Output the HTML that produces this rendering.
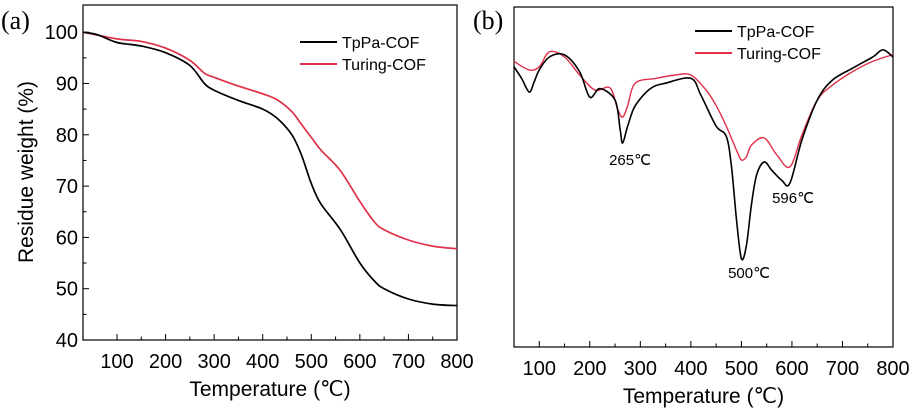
<!DOCTYPE html>
<html><head><meta charset="utf-8"><style>
body{margin:0;background:#fff;width:915px;height:409px;overflow:hidden}
svg{font-family:"Liberation Sans",sans-serif}
</style></head><body>
<svg id="c" width="915" height="409"></svg>
<script>
const tgaT=[30,60,100,150,200,250,280,300,350,400,430,460,480,500,520,560,600,630,650,700,750,800];
const tgaTpPa=[100,99.5,98,97.3,96,93.5,90,88.7,86.7,85,83.2,80,76,70.5,66.5,61.5,55,51.5,50,48,47,46.7];
const tgaTuringT=[30,100,150,200,250,280,300,350,400,430,460,480,500,520,560,600,630,650,700,750,800];
const tgaTuring=[100,98.7,98.2,96.9,94.5,92,91.2,89.5,88,86.8,84.5,82,79.5,77,73,67,63,61.5,59.5,58.3,57.8];
const dtgTpPaT=[50,65,80,90,100,120,150,180,200,220,250,260,265,275,290,320,350,400,420,450,470,480,490,500,510,520,530,545,560,580,596,620,650,680,720,760,780,800];
const dtgTpPa=[82.4,79,75,78,81.5,85.3,85.9,80.9,73.5,76,72.6,64,60,65,71,76,77.6,79,74,65,62,53.5,38,26,30,42,50.6,54.4,52,49,48.2,61,72.6,78.5,82,85.3,87.4,85.3];
const dtgTuringT=[50,80,100,120,150,180,210,240,255,265,275,290,330,370,400,430,450,470,490,500,510,520,545,570,596,620,650,680,720,760,800];
const dtgTuring=[84,81.5,82.4,86.8,85.3,80,75.6,76.2,70,67.6,71,77.6,79,80,80,75.6,71,65,58,55,56,59.4,61.5,56.5,53,62.4,72.6,77,81,84,86];
const xTicks=[100,200,300,400,500,600,700,800];
const yTicksA=[40,50,60,70,80,90,100];

const svg=document.getElementById('c');const NS='http://www.w3.org/2000/svg';
function mk(t,a,p){const e=document.createElementNS(NS,t);for(const k in a)e.setAttribute(k,a[k]);(p||svg).appendChild(e);return e;}
function txt(s,a){const e=mk('text',a);e.textContent=s;return e;}

const AX=v=>83+(v-30)/770*374, AY=v=>340-(v-40)/65.3*335;
const BX=v=>514+(v-50)/750*379, BY=v=>347-v*3.4;

function panel(x0,y0,x1,y1,X,Xmin,name){
  const r=mk('rect',{x:x0,y:y0,width:x1-x0,height:y1-y0,fill:'none',stroke:'#000','stroke-width':1.2});
  
  for(let v=Xmin;v<=800;v+=50){if(v<=Xmin&&v%100!==0)continue;const x=X(v);const maj=v%100===0;
    mk('line',{x1:x,x2:x,y1:y1,y2:y1-(maj?6:3.5),stroke:'#000','stroke-width':1});}
  xTicks.forEach(v=>{const t=txt(v,{x:X(v),y:y1+28,'font-size':20,'text-anchor':'middle'});
    });
  const t=txt('Temperature (\u2103)',{x:(x0+x1)/2,y:y1+56,'font-size':21,'text-anchor':'middle'});
  
}
panel(83,5,457,340,AX,50,'panel-a');
panel(514,7,893,347,BX,50,'panel-b');
for(let v=45;v<=100;v+=5){const y=AY(v);mk('line',{x1:83,x2:v%10===0?89:86.5,y1:y,y2:y,stroke:'#000'});}
yTicksA.forEach(v=>{const t=txt(v,{x:78,y:AY(v)+7,'font-size':20,'text-anchor':'end'});
  });
let yt=txt('Residue weight (%)',{x:0,y:0,'font-size':21,'text-anchor':'middle',transform:'translate(33,172) rotate(-90)'});


function line(xs,ys,X,Y,col,name,w){
  const P=xs.map((x,i)=>[X(x),Y(ys[i])]);
  let d='M'+P[0][0].toFixed(1)+','+P[0][1].toFixed(1);
  for(let i=0;i<P.length-1;i++){
    const p0=P[i-1]||P[i],p1=P[i],p2=P[i+1],p3=P[i+2]||P[i+1];
    const c1=[p1[0]+(p2[0]-p0[0])/6,p1[1]+(p2[1]-p0[1])/6];
    const c2=[p2[0]-(p3[0]-p1[0])/6,p2[1]-(p3[1]-p1[1])/6];
    d+='C'+c1.map(v=>v.toFixed(1)).join(',')+' '+c2.map(v=>v.toFixed(1)).join(',')+' '+p2.map(v=>v.toFixed(1)).join(',');
  }
  const p=mk('path',{d:d,fill:'none',stroke:col,'stroke-width':w,'stroke-linejoin':'round'});
  
}
line(tgaTuringT,tgaTuring,AX,AY,'#e0304a','tga-turing-cof-line',1.7);
line(tgaT,tgaTpPa,AX,AY,'#000','tga-tppa-cof-line',1.7);
line(dtgTuringT,dtgTuring,BX,BY,'#e0304a','dtg-turing-cof-line',1.4);
line(dtgTpPaT,dtgTpPa,BX,BY,'#000','dtg-tppa-cof-line',1.6);

function legend(x,y,name){
  [['TpPa-COF','#000'],['Turing-COF','#e0304a']].forEach((e,i)=>{
    const l=mk('line',{x1:x,x2:x+37,y1:y+i*22,y2:y+i*22,stroke:e[1],'stroke-width':2});
    
    const t=txt(e[0],{x:x+42,y:y+i*22+6,'font-size':16});
    });
}
legend(300,42,'panel-a');legend(695,31,'panel-b');

[['265\u2103',630,165],['500\u2103',749,278],['596\u2103',793,203]].forEach(a=>{
  const t=txt(a[0],{x:a[1],y:a[2],'font-size':15,'text-anchor':'middle'});
  });
let pa=txt('(a)',{x:1,y:29,'font-size':26,'font-family':'Liberation Serif,serif'});

let pb=txt('(b)',{x:473,y:29,'font-size':26,'font-family':'Liberation Serif,serif'});

</script>
</body></html>
